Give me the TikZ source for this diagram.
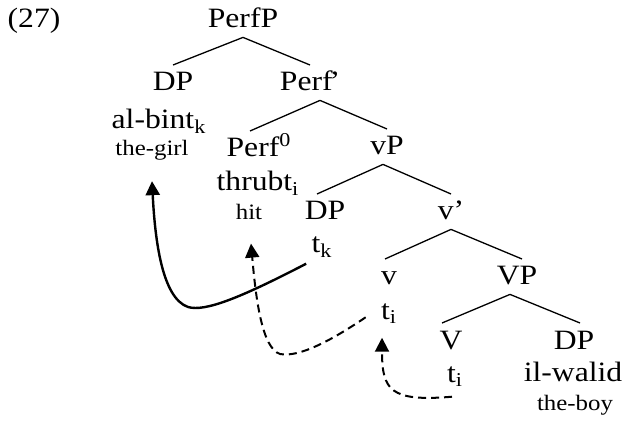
\documentclass[tikz,border=0pt]{standalone}
\usepackage{fontspec}
\setmainfont{Liberation Serif}[FakeStretch=1.13]
\usetikzlibrary{arrows.meta}
\tikzset{
  cat/.style={anchor=base,inner xsep=0pt,inner ysep=3.5pt,text height=9.3pt,text depth=1pt,font=\fontsize{14}{16}\selectfont},
  word/.style={anchor=base,inner sep=0pt,font=\fontsize{14}{16}\selectfont},
  gloss/.style={anchor=base,inner sep=0pt,font=\fontsize{11}{13}\selectfont},
  branch/.style={line width=0.65pt},
  move/.style={line width=1.2pt,-{Triangle[length=7pt,width=7pt]}},
  trace/.style={line width=1pt,dash pattern=on 4pt off 2.5pt,-{Triangle[length=7pt,width=7pt]}}
}
\begin{document}
\begin{tikzpicture}[x=0.5pt,y=-0.5pt]
\useasboundingbox (0,0) rectangle (624,421);
\node[word] (ex) at (34,28) {(27)};
\node[cat] (perfp) at (243,28) {PerfP};
\node[cat] (dpa) at (173,91) {DP};
\node[word] (albint) at (159,129) {al-bint\textsubscript{k}};
\node[gloss] (girl) at (152,156) {the-girl};
\node[cat] (perfbar) at (310,91) {Perf\kern-1.6pt'};
\node[cat] (perfzero) at (259,157) {Perf\textsuperscript{0}};
\node[word] (thrubt) at (258,191) {thrubt\textsubscript{i}};
\node[gloss] (hit) at (249,220) {hit};
\node[cat] (vp) at (387,155) {vP};
\node[cat] (dpb) at (325,220) {DP};
\node[word] (tk) at (322,253) {t\textsubscript{k}};
\node[cat] (vbar) at (451,220) {v'};
\node[cat] (vsmall) at (389,285) {v};
\node[word] (tiv) at (389,319) {t\textsubscript{i}};
\node[cat] (bigvp) at (517,285) {VP};
\node[cat] (bigv) at (451,349) {V};
\node[word] (tiV) at (455,382) {t\textsubscript{i}};
\node[cat] (dpc) at (574,349) {DP};
\node[word] (walid) at (573,381) {il-walid};
\node[gloss] (boy) at (575,410) {the-boy};
\draw[branch] (perfp.south) -- (dpa.north);
\draw[branch] (perfp.south) -- (perfbar.north);
\draw[branch] ([xshift=5pt]perfbar.south) -- ([xshift=-4.5pt]perfzero.north);
\draw[branch] ([xshift=5pt]perfbar.south) -- (vp.north);
\draw[branch] ([xshift=-2pt]vp.south) -- ([xshift=-4pt]dpb.north);
\draw[branch] ([xshift=-2pt]vp.south) -- (vbar.north);
\draw[branch] (vbar.south) -- ([xshift=-2pt]vsmall.north);
\draw[branch] (vbar.south) -- ([xshift=2.5pt]bigvp.north);
\draw[branch] ([xshift=-3.5pt]bigvp.south) -- ([xshift=-4.5pt]bigv.north);
\draw[branch] ([xshift=-3.5pt]bigvp.south) -- ([xshift=3pt]dpc.north);
\draw[move] ([xshift=-2.5pt,yshift=-3pt]tk.south west) .. controls (240,298) and (205,312) .. (188,307) .. controls (162,298) and (155,240) .. ([yshift=-10pt]girl.south);
\draw[trace] ([xshift=-7.5pt,yshift=-2pt]tiv.west) .. controls (335,338) and (300,358) .. (280,354) .. controls (262,348) and (256,300) .. ([xshift=1pt,yshift=-11.5pt]hit.south);
\draw[trace] ([xshift=-1.5pt,yshift=-5pt]tiV.south) .. controls (390,402) and (382,390) .. ([xshift=-3.5pt,yshift=-7pt]tiv.south);
\end{tikzpicture}
\end{document}
